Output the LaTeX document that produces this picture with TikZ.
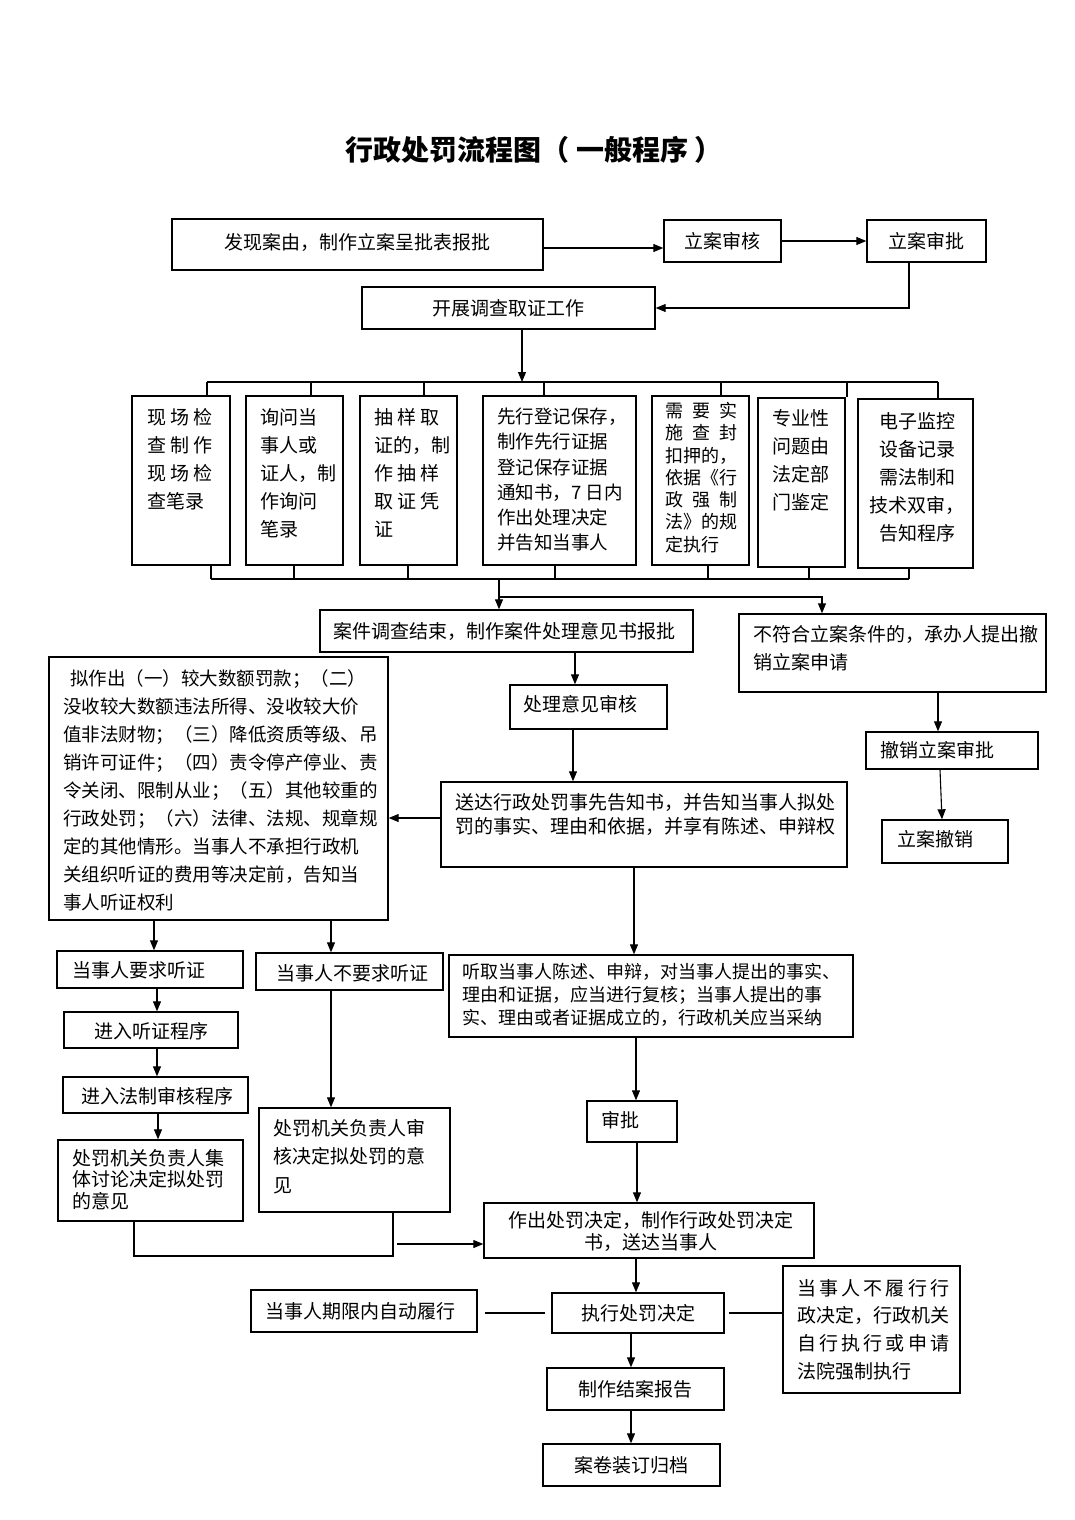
\documentclass[tikz,border=0pt]{standalone}
\usepackage{fontspec}
\setmainfont{Noto Sans CJK SC}
\usetikzlibrary{arrows.meta,fit}
\newcommand\fsz[2]{\fontsize{#1pt}{#2pt}\selectfont}
\begin{document}
\begin{tikzpicture}[x=1pt,y=-1pt,
  box/.style={draw, line width=1.4pt, inner sep=0pt},
  lbl/.style={inner sep=0pt, font=\fsz{19}{28}},
  arr/.style={line width=1.1pt, -{Triangle[length=10pt,width=8pt]}},
  ln/.style={line width=1.1pt}]
\fill[white] (0,0) rectangle (1074,1520);
\useasboundingbox (0,0) rectangle (1074,1520);

% title
\node[inner sep=0pt, font=\fsz{28}{34}\bfseries] (title) at (534,150) {行政处罚流程图（ 一般程序 ）};

% row 1
\node[box, fit={(172,219) (543,270)}] (A) {};
\node[lbl, anchor=west] (tA) at (224,242) {发现案由，制作立案呈批表报批};
\node[box, fit={(664,220) (781,262)}] (B) {};
\node[lbl] (tB) at (B.center) {立案审核};
\node[box, fit={(867,220) (986,262)}] (C) {};
\node[lbl] (tC) at (C.center) {立案审批};
\node[box, fit={(362,287) (655,329)}] (D) {};
\node[lbl] (tD) at (D.center) {开展调查取证工作};

% evidence boxes
\node[box, fit={(132,396) (230,565)}] (b1) {};
\node[lbl, anchor=north west, align=left] (t1) at (147,408) {现 场 检\\查 制 作\\现 场 检\\查笔录};
\node[box, fit={(246,396) (343,565)}] (b2) {};
\node[lbl, anchor=north west, align=left] (t2) at (260,408) {询问当\\事人或\\证人，制\\作询问\\笔录};
\node[box, fit={(360,396) (457,565)}] (b3) {};
\node[lbl, anchor=north west, align=left] (t3) at (374,408) {抽 样 取\\证的，制\\作 抽 样\\取 证 凭\\证};
\node[box, fit={(483,396) (636,565)}] (b4) {};
\node[lbl, anchor=north west, align=left, font=\fsz{18.5}{25.2}] (t4) at (497,408) {先行登记保存，\\制作先行证据\\登记保存证据\\通知书，7 日内\\作出处理决定\\并告知当事人};
\node[box, fit={(652,396) (749,565)}] (b5) {};
\node[lbl, anchor=north west, align=left, font=\fsz{18}{22.3}] (t5) at (665,402) {需\enspace 要\enspace 实\\施\enspace 查\enspace 封\\扣押的，\\依据《行\\政\enspace 强\enspace 制\\法》的规\\定执行};
\node[box, fit={(758,398) (845,567)}] (b6) {};
\node[lbl, anchor=north west, align=left] (t6) at (772,409) {专业性\\问题由\\法定部\\门鉴定};
\node[box, fit={(858,399) (973,568)}] (b7) {};
\node[lbl, anchor=north, align=center] (t7) at (917,412) {电子监控\\设备记录\\需法制和\\技术双审，\\告知程序};

% flow boxes
\node[box, fit={(320,610) (693,652)}] (E) {};
\node[lbl, anchor=west] (tE) at (333,631) {案件调查结束，制作案件处理意见书报批};
\node[box, fit={(739,614) (1046,692)}] (F) {};
\node[lbl, anchor=north west, align=left] (tF) at (753,625) {不符合立案条件的，承办人提出撤\\销立案申请};
\node[box, fit={(866,732) (1038,769)}] (F2) {};
\node[lbl, anchor=west] (tF2) at (880,750) {撤销立案审批};
\node[box, fit={(882,820) (1008,863)}] (F3) {};
\node[lbl, anchor=west] (tF3) at (897,839) {立案撤销};

\node[box, fit={(510,685) (667,729)}] (G) {};
\node[lbl, anchor=west] (tG) at (523,704) {处理意见审核};
\node[box, fit={(441,782) (847,867)}] (H) {};
\node[lbl, anchor=north west, align=left, font=\fsz{19}{24}] (tH) at (455,793) {送达行政处罚事先告知书，并告知当事人拟处\\罚的事实、理由和依据，并享有陈述、申辩权};

\node[box, fit={(49,657) (388,920)}] (I) {};
\node[lbl, anchor=north west, align=left, font=\fsz{18.5}{28.1}] (tI) at (63,669) {\hspace{7pt}拟作出（一）较大数额罚款；（二）\\没收较大数额违法所得、没收较大价\\值非法财物；（三）降低资质等级、吊\\销许可证件；（四）责令停产停业、责\\令关闭、限制从业；（五）其他较重的\\行政处罚；（六）法律、法规、规章规\\定的其他情形。当事人不承担行政机\\关组织听证的费用等决定前，告知当\\事人听证权利};

\node[box, fit={(57,951) (243,988)}] (J) {};
\node[lbl, anchor=west] (tJ) at (72,970) {当事人要求听证};
\node[box, fit={(256,953) (443,990)}] (K) {};
\node[lbl, anchor=west] (tK) at (276,973) {当事人不要求听证};
\node[box, fit={(64,1012) (238,1048)}] (L) {};
\node[lbl, anchor=west] (tL) at (94,1031) {进入听证程序};
\node[box, fit={(63,1077) (248,1113)}] (M) {};
\node[lbl, anchor=west] (tM) at (81,1096) {进入法制审核程序};
\node[box, fit={(58,1140) (243,1221)}] (N) {};
\node[lbl, anchor=north west, align=left, font=\fsz{19}{21.5}] (tN) at (72,1149) {处罚机关负责人集\\体讨论决定拟处罚\\的意见};
\node[box, fit={(259,1108) (450,1212)}] (O) {};
\node[lbl, anchor=north west, align=left, font=\fsz{19}{28.5}] (tO) at (273,1119) {处罚机关负责人审\\核决定拟处罚的意\\见};

\node[box, fit={(449,955) (853,1037)}] (Q) {};
\node[lbl, anchor=north west, align=left, font=\fsz{18}{23}] (tQ) at (462,963) {听取当事人陈述、申辩，对当事人提出的事实、\\理由和证据，应当进行复核；当事人提出的事\\实、理由或者证据成立的，行政机关应当采纳};
\node[box, fit={(587,1101) (677,1142)}] (R) {};
\node[lbl, anchor=west] (tR) at (601,1120) {审批};
\node[box, fit={(484,1203) (814,1258)}] (P) {};
\node[lbl, anchor=north, align=center, font=\fsz{19}{22}] (tP) at (651,1211) {作出处罚决定，制作行政处罚决定\\书，送达当事人};
\node[box, fit={(552,1293) (724,1333)}] (S) {};
\node[lbl] (tS) at (S.center) {执行处罚决定};
\node[box, fit={(251,1290) (477,1332)}] (T) {};
\node[lbl, anchor=west] (tT) at (265,1311) {当事人期限内自动履行};
\node[box, fit={(783,1266) (960,1393)}] (U) {};
\node[lbl, anchor=north west, align=left, font=\fsz{19}{27.7}] (tU) at (797,1279) {当\,事\,人\,不\,履\,行\,行\\政决定，行政机关\\自\,行\,执\,行\,或\,申\,请\\法院强制执行};
\node[box, fit={(547,1368) (724,1410)}] (V) {};
\node[lbl] (tV) at (V.center) {制作结案报告};
\node[box, fit={(543,1444) (720,1486)}] (W) {};
\node[lbl] (tW) at (W.center) {案卷装订归档};

% connectors, row 1
\draw[arr] (A.east |- 0,248) -- (B.west |- 0,248);
\draw[arr] (B.east) -- (C.west);
\draw[arr] (C.south -| 909,0) |- (D.east);
\coordinate (br) at (522,382);
\draw[arr] (D.south -| br) -- (br);

% branch to evidence boxes
\draw[ln] (207,382) -- (938,382);
\foreach \b/\x in {b1/207,b2/311,b3/424,b4/544,b5/721,b6/847,b7/938}
  \draw[ln] (\x,382) -- (\b.north -| \x,0);
\draw[ln] (211,579) -- (909,579);
\foreach \b/\x in {b1/211,b2/294,b3/408,b4/555,b5/708,b6/809,b7/909}
  \draw[ln] (\b.south -| \x,0) -- (\x,579);
\coordinate (mg) at (499,579);
\draw[arr] (mg) -- (E.north -| mg);
\coordinate (sp) at (499,597);
\draw[arr] (sp) -| (F.north -| 822,0);

% right branch
\draw[arr] (F.south -| 938,0) -- (F2.north -| 938,0);
\draw[arr] (F2.south -| 940,0) -- (F3.north -| 942,0);

% main column
\draw[arr] (E.south -| 575,0) -- (G.north -| 575,0);
\draw[arr] (G.south -| 573,0) -- (H.north -| 573,0);
\draw[arr] (H.west |- 0,818) -- (I.east |- 0,818);
\draw[arr] (H.south -| 634,0) -- (Q.north -| 634,0);
\draw[arr] (Q.south -| 636,0) -- (R.north -| 636,0);
\draw[arr] (R.south -| 637,0) -- (P.north -| 637,0);
\draw[arr] (P.south -| 636,0) -- (S.north -| 636,0);
\draw[arr] (S.south -| 631,0) -- (V.north -| 631,0);
\draw[arr] (V.south -| 631,0) -- (W.north -| 631,0);
\draw[ln] ([xshift=7pt]T.east |- 0,1313) -- ([xshift=-6pt]S.west |- 0,1313);
\draw[ln] ([xshift=4pt]S.east |- 0,1313) -- (U.west |- 0,1313);

% hearing branch
\draw[arr] (I.south -| 154,0) -- (J.north -| 154,0);
\draw[arr] (I.south -| 331,0) -- (K.north -| 331,0);
\draw[arr] (J.south -| 157,0) -- (L.north -| 157,0);
\draw[arr] (L.south -| 157,0) -- (M.north -| 157,0);
\draw[arr] (M.south -| 158,0) -- (N.north -| 158,0);
\draw[arr] (K.south -| 331,0) -- (O.north -| 331,0);
\draw[ln] (N.south -| 134,0) -- (134,1256) -- (393,1256) -- (O.south -| 393,0);
\draw[arr] (397,1244) -- (P.west |- 0,1244);
\end{tikzpicture}
\end{document}
